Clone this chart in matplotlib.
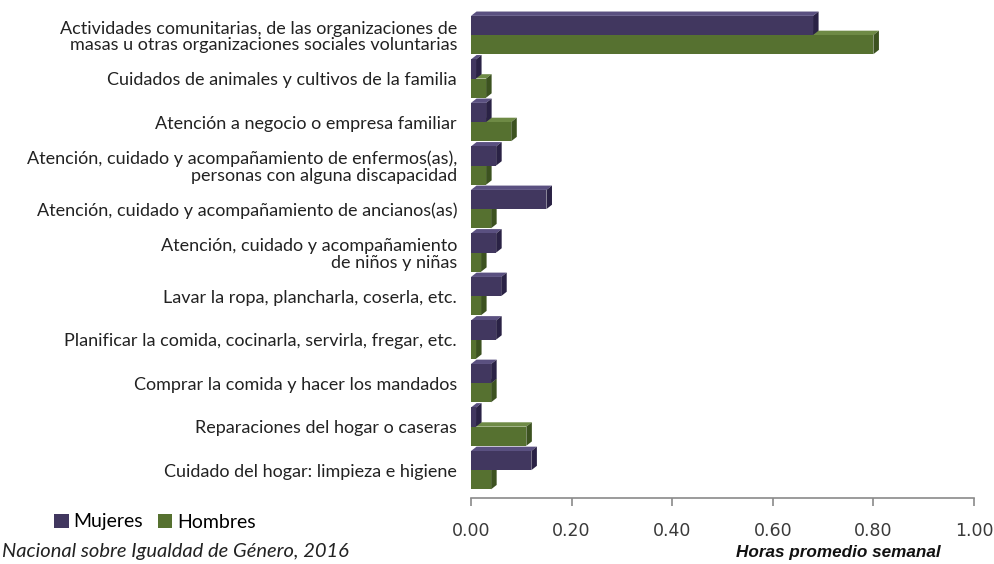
import matplotlib
matplotlib.use("Agg")
import matplotlib.pyplot as plt
from matplotlib.patches import Polygon, Patch
import numpy as np

categories = [
    "Actividades comunitarias, de las organizaciones de\nmasas u otras organizaciones sociales voluntarias",
    "Cuidados de animales y cultivos de la familia",
    "Atención a negocio o empresa familiar",
    "Atención, cuidado y acompañamiento de enfermos(as),\npersonas con alguna discapacidad",
    "Atención, cuidado y acompañamiento de ancianos(as)",
    "Atención, cuidado y acompañamiento\nde niños y niñas",
    "Lavar la ropa, plancharla, coserla, etc.",
    "Planificar la comida, cocinarla, servirla, fregar, etc.",
    "Comprar la comida y hacer los mandados",
    "Reparaciones del hogar o caseras",
    "Cuidado del hogar: limpieza e higiene",
]
mujeres = [0.68, 0.01, 0.03, 0.05, 0.15, 0.05, 0.06, 0.05, 0.04, 0.01, 0.12]
hombres = [0.80, 0.03, 0.08, 0.03, 0.04, 0.02, 0.02, 0.01, 0.04, 0.11, 0.04]
series_names = ["Mujeres", "Hombres"]
xticks = [0.0, 0.2, 0.4, 0.6, 0.8, 1.0]
xlabel = "Horas promedio semanal"
source = "Nacional sobre Igualdad de Género, 2016"

col_m = dict(front="#41375F", top="#5A5080", side="#2A2245")
col_h = dict(front="#567130", top="#6E8A45", side="#3C5220")

W, H = 994, 564
fig = plt.figure(figsize=(W / 100, H / 100), dpi=100)
ax = fig.add_axes([471 / W, 1 - 498 / H, 503 / W, 493 / H])

y = np.arange(len(categories))
bh = 0.44
dx = 0.011
dy = 0.10

def draw(vals, offset, c):
    for yi, v in zip(y, vals):
        top = yi + offset
        bot = top + bh
        ax.add_patch(Polygon([(0, top), (v, top), (v + dx, top - dy), (dx, top - dy)],
                             closed=True, facecolor=c["top"], edgecolor="none", zorder=2))
        ax.add_patch(Polygon([(v, top), (v + dx, top - dy), (v + dx, bot - dy), (v, bot)],
                             closed=True, facecolor=c["side"], edgecolor="none", zorder=2))
        ax.barh(top + bh / 2, v, height=bh, color=c["front"], edgecolor="none", zorder=2)

draw(hombres, 0.0, col_h)
draw(mujeres, -bh, col_m)

ax.set_xlim(0, 1.0)
ax.set_ylim(10.64, -0.69)
for s in ["top", "right", "left"]:
    ax.spines[s].set_visible(False)
ax.spines["bottom"].set_color("#8a8a8a")
ax.spines["bottom"].set_linewidth(1.2)
ax.set_xticks(xticks)
ax.set_xticklabels([f"{t:.2f}" for t in xticks], fontsize=12.5, color="#333333",
                   family="DejaVu Sans")
ax.tick_params(axis="x", colors="#8a8a8a", length=6, width=1.2, pad=11, labelcolor="#3a3a3a")
ax.set_yticks(y)
ax.set_yticklabels(categories, fontsize=13, family="Lato", color="#222222", linespacing=1.05)
ax.tick_params(axis="y", length=0, pad=10)

fig.text(838 / W, 1 - 553 / H, xlabel, ha="center", va="center", fontsize=12.3,
         family="Liberation Sans", weight="bold", style="italic", color="#111111")
fig.text(2 / W, 1 - 551 / H, source, ha="left", va="center", fontsize=14.5,
         family="Lato", style="italic", color="#222222")

handles = [Patch(facecolor=col_m["front"]), Patch(facecolor=col_h["front"])]
fig.legend(handles, series_names, loc="center left", bbox_to_anchor=(54 / W, 1 - 522 / H),
           ncol=2, frameon=False, prop={"family": "Lato", "size": 14},
           handlelength=0.75, handleheight=0.75, handletextpad=0.25, columnspacing=0.75,
           borderpad=0, borderaxespad=0)

fig.savefig("out.png", dpi=100)
